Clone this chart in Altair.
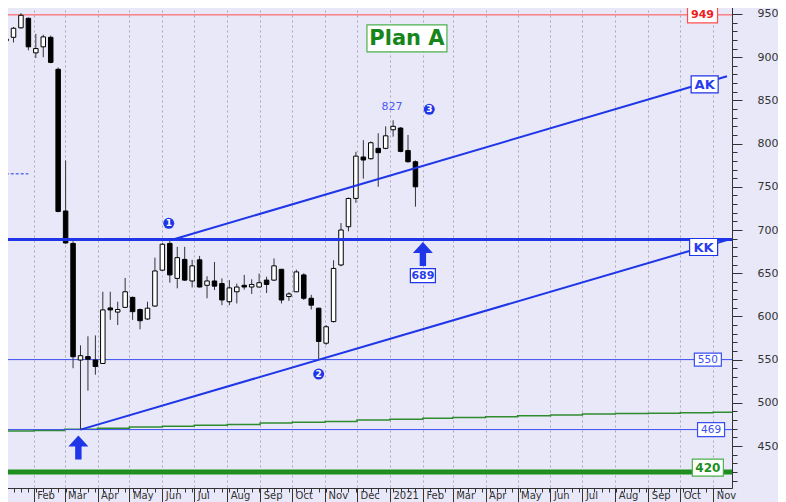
import altair as alt
import pandas as pd

# ---------------- data ----------------
week_start = pd.date_range("2020-01-06", periods=56, freq="7D")
dates = [d.strftime("%Y-%m-%d") for d in week_start]

opens = [919, 923, 934, 945, 905, 912, 923, 886, 722, 684.5,
         549.5, 553.5, 549.5, 545.5, 609.8, 605, 610.5, 622, 608, 597,
         612, 653.5, 684.5, 644, 666, 641, 665.5, 636, 641, 638,
         617, 628.5, 636, 634, 634, 642, 642, 654.5, 623, 628.5,
         648, 621, 609.5, 569, 594, 659.5, 703.8, 736.6, 784.5, 782.5,
         794.5, 794.5, 816, 818, 792, 779]
highs = [923, 935, 951, 946, 927, 926, 925, 888, 780.5, 687,
         566.5, 577, 578, 628.5, 628.5, 617, 644.5, 623, 609, 617,
         668, 685, 690, 680.5, 680.5, 665.5, 670, 646.5, 663, 644,
         642, 638, 648, 643, 649.5, 646, 667, 655, 628, 654,
         650, 625, 610, 590, 665, 708, 737.5, 790.5, 804, 802.5,
         812, 820, 827, 819, 810, 780.5]
lows = [917, 917, 933, 908, 899, 900, 893, 720.5, 684, 540,
        469, 514, 532.5, 545, 596, 590, 610, 596, 585, 596,
        611, 653, 639, 632.5, 641, 633.5, 633.5, 621, 630.5, 613,
        613, 615, 631, 626, 633.5, 627, 641, 615, 618, 628,
        619, 608, 550, 567, 593, 658, 698.5, 731.5, 759.5, 781.5,
        750, 793.5, 808, 790, 778, 727]
closes = [921, 933.5, 948.5, 912, 910, 923.5, 894, 721.5, 685, 553.3,
          554.5, 550.5, 542, 607.5, 607.5, 608, 628.5, 605.5, 595, 609.5,
          652.6, 683.5, 648, 668, 642, 658.5, 634, 641, 635, 619,
          633, 634, 634, 637, 639, 637, 658.5, 619, 626, 651.5,
          621, 613, 571, 588, 655.5, 700, 736.5, 785.5, 781, 801,
          789.5, 809, 820, 791, 779, 750]

# slow moving average (green thin line), monthly reading
ma_dates = ["2020-01-01", "2020-02-01", "2020-03-01", "2020-04-01", "2020-05-01",
            "2020-06-01", "2020-07-01", "2020-08-01", "2020-09-01", "2020-10-01",
            "2020-11-01", "2020-12-01", "2021-01-01", "2021-02-01", "2021-03-01",
            "2021-04-01", "2021-05-01", "2021-06-01", "2021-07-01", "2021-08-01",
            "2021-09-01", "2021-10-01", "2021-11-01", "2021-11-20"]
ma_values = [467.5, 468, 469.5, 470.5, 472, 473, 474, 475, 476.5, 477.5,
             478.5, 480, 481, 482, 483, 484, 485, 486, 487, 487.5,
             488, 488.5, 489, 489]

# trend lines
ak_dates = ["2020-06-11", "2021-11-14"]
ak_values = [689, 878]
kk_dates = ["2020-03-16", "2021-11-14"]
kk_values = [469, 688.5]

# short dashed level at the left
dash_dates = ["2020-01-01", "2020-01-27"]
dash_values = [765, 765]

# label boxes
box_labels = ["949", "AK", "KK", "550", "469", "420", "689", "Plan A"]
box_dates = ["2021-10-22", "2021-10-24", "2021-10-23", "2021-10-27",
             "2021-10-30", "2021-10-27", "2021-02-01", "2021-01-17"]
box_values = [949, 868.6, 680.3, 550, 469, 425, 647.3, 921.9]

marker_labels = ["1", "2", "3"]
marker_dates = ["2020-06-07", "2020-10-26", "2021-02-07"]
marker_values = [707.8, 533.3, 839.7]

arrow_dates = ["2020-03-14", "2021-02-01"]
arrow_values = [448.3, 672.2]

peak_label = ["827"]
peak_date = ["2021-01-03"]
peak_value = [842.7]

# ---------------- styling ----------------
BLUE = "#1f35e8"
BLUE_T = "#2a3cf0"
RED = "#ff4d4d"
GREEN = "#1e8f1e"
LGREEN = "#4cb04c"
BG = "#e8e8f8"
FONT = "DejaVu Sans"


def ms(s):
    return int(pd.Timestamp(s, tz="UTC").timestamp() * 1000)


XS = alt.Scale(domain=[ms("2020-01-05"), ms("2021-11-14")], nice=False)
YS = alt.Scale(domain=[401.4, 966.2], nice=False, zero=False)


def X(field="date", axis=None):
    return alt.X(f"{field}:T", scale=XS, axis=axis)


def Y(field="value", axis=None):
    return alt.Y(f"{field}:Q", scale=YS, axis=axis)


month_vals = [ms(d) for d in pd.date_range("2020-02-01", "2021-11-01", freq="MS")]
week_vals = [ms(d) for d in pd.date_range("2020-01-06", "2021-11-08", freq="7D")]

x_major = alt.Axis(
    orient="bottom", values=month_vals, title=None,
    labelExpr="utcmonth(datum.value)==0 ? utcFormat(datum.value,'%Y') : utcFormat(datum.value,'%b')",
    tickSize=14, tickColor="#333", domainColor="#333", labelAlign="left",
    labelBaseline="top", labelOffset=3, labelPadding=-12, labelFont=FONT,
    labelFontSize=10, labelColor="#333", grid=True, gridDash=[2, 3],
    gridColor="#a9a9b6", gridWidth=1, labelOverlap=False,
)
x_minor = alt.Axis(orient="bottom", values=week_vals, title=None, tickSize=4,
                   tickColor="#333", labels=False, domain=False, grid=False)
y_major = alt.Axis(orient="right", values=list(range(450, 951, 50)), title=None,
                   tickSize=10, tickColor="#333", domainColor="#333",
                   labelPadding=15, labelFont=FONT, labelFontSize=11,
                   labelColor="#333", labelAlign="left", grid=False)
y_minor = alt.Axis(orient="right", values=list(range(410, 961, 10)), title=None,
                   tickSize=5, tickColor="#333", labels=False, domain=False,
                   grid=False)

candles = pd.DataFrame({"date": dates, "open": opens, "high": highs,
                        "low": lows, "close": closes})
candles["fill"] = ["white" if c >= o else "black" for o, c in zip(opens, closes)]

ma_df = pd.DataFrame({"date": ma_dates, "value": ma_values})

layers = []

# green moving average (carries minor axes)
layers.append(alt.Chart(ma_df).mark_line(interpolate="step-after", color="#2e8b2e",
                                          strokeWidth=1.5, clip=True)
              .encode(x=X("date", x_minor), y=Y("value", y_minor)))

# thin level lines
for val, col, w in [(949, RED, 1), (550, "#3a4ef0", 1), (469, "#3a4ef0", 1)]:
    layers.append(alt.Chart(pd.DataFrame({"value": [val]}))
                  .mark_rule(color=col, strokeWidth=w).encode(y=Y("value")))

# candles
layers.append(alt.Chart(candles).mark_rule(color="#333", strokeWidth=1, clip=True)
              .encode(x=X("date", x_major), y=alt.Y("low:Q", scale=YS, axis=y_major),
                      y2="high:Q"))
layers.append(alt.Chart(candles).mark_bar(size=4.5, stroke="black", strokeWidth=1, clip=True)
              .encode(x=X("date"), y=alt.Y("open:Q", scale=YS, axis=None), y2="close:Q",
                      fill=alt.Fill("fill:N", scale=None)))

# thick level lines
layers.append(alt.Chart(pd.DataFrame({"value": [689]}))
              .mark_rule(color=BLUE, strokeWidth=3).encode(y=Y("value")))
layers.append(alt.Chart(pd.DataFrame({"value": [420]}))
              .mark_rule(color=GREEN, strokeWidth=5).encode(y=Y("value")))

# trend lines
for d, v in [(ak_dates, ak_values), (kk_dates, kk_values)]:
    layers.append(alt.Chart(pd.DataFrame({"date": d, "value": v}))
                  .mark_line(color=BLUE, strokeWidth=2, clip=True)
                  .encode(x=X("date"), y=Y("value")))

layers.append(alt.Chart(pd.DataFrame({"date": dash_dates, "value": dash_values}))
              .mark_line(color=BLUE, strokeWidth=1, strokeDash=[3, 2], clip=True)
              .encode(x=X("date"), y=Y("value")))

# label boxes
box_style = {
    "949": (30, 16, RED, "#f02020", 11, "bold"),
    "AK": (27, 17, BLUE, BLUE_T, 13, "bold"),
    "KK": (28, 17, BLUE, BLUE_T, 13, "bold"),
    "550": (27, 13, "#3a4ef0", "#3a4ef0", 10.5, "normal"),
    "469": (27, 14, "#3a4ef0", "#3a4ef0", 10.5, "normal"),
    "420": (31, 17, LGREEN, GREEN, 12, "bold"),
    "689": (25, 14, BLUE, BLUE_T, 11, "bold"),
    "Plan A": (80, 27, LGREEN, "#16861a", 21, "bold"),
}
for lab, d, v in zip(box_labels, box_dates, box_values):
    w, h, sc, tc, fs, fw = box_style[lab]
    df = pd.DataFrame({"date": [d], "value": [v], "label": [lab]})
    path = f"M{-w/2},{-h/2}H{w/2}V{h/2}H{-w/2}Z"
    layers.append(alt.Chart(df).mark_point(shape=path, size=4, filled=True, fill="white",
                                           stroke=sc, strokeWidth=1.2, opacity=1)
                  .encode(x=X("date"), y=Y("value")))
    layers.append(alt.Chart(df).mark_text(font=FONT, fontSize=fs, fontWeight=fw, color=tc,
                                          align="center", baseline="middle", dy=0.5)
                  .encode(x=X("date"), y=Y("value"), text="label:N"))

# numbered markers
mk = pd.DataFrame({"date": marker_dates, "value": marker_values, "label": marker_labels})
layers.append(alt.Chart(mk).mark_point(shape="circle", size=120, filled=True,
                                       color=BLUE, opacity=1)
              .encode(x=X("date"), y=Y("value")))
layers.append(alt.Chart(mk).mark_text(font=FONT, fontSize=9, fontWeight="bold",
                                      color="white", align="center", baseline="middle")
              .encode(x=X("date"), y=Y("value"), text="label:N"))

# arrows
arrow_path = "M0,-12L10,-1H3.2V12H-3.2V-1H-10Z"
layers.append(alt.Chart(pd.DataFrame({"date": arrow_dates, "value": arrow_values}))
              .mark_point(shape=arrow_path, size=4, filled=True, color=BLUE, opacity=1)
              .encode(x=X("date"), y=Y("value")))

# peak label
layers.append(alt.Chart(pd.DataFrame({"date": peak_date, "value": peak_value,
                                      "label": peak_label}))
              .mark_text(font=FONT, fontSize=11, color="#4a5cf5", align="center",
                         baseline="middle")
              .encode(x=X("date"), y=Y("value"), text="label:N"))

chart = (alt.layer(*layers)
         .resolve_axis(x="independent", y="independent")
         .properties(width=732, height=488, background=BG,
                     autosize=alt.AutoSizeParams(type="none"),
                     padding={"left": -8, "top": -8, "right": 46, "bottom": 14})
         .configure_view(fill=BG, strokeWidth=0))

chart.save("out.html", embed_options={"renderer": "svg", "actions": False})
